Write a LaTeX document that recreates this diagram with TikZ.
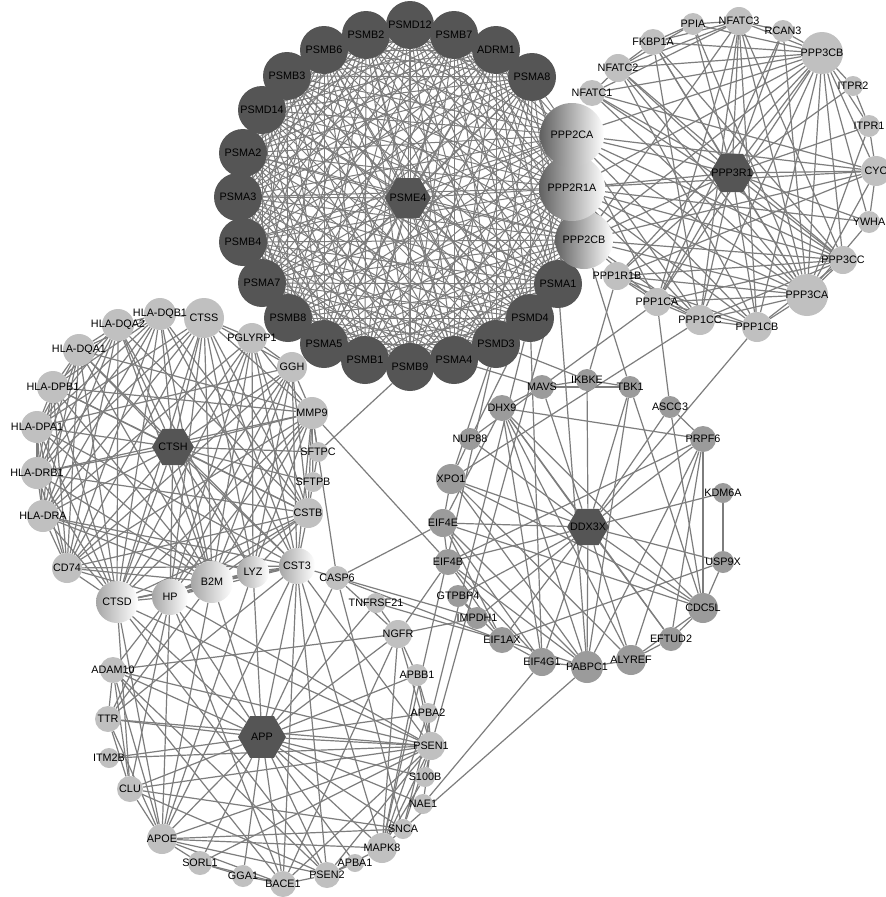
\documentclass[tikz,border=0pt]{standalone}
\usepackage{fontspec}
\setmainfont{Liberation Sans}
\usetikzlibrary{shapes.geometric,backgrounds}
\definecolor{dkc}{RGB}{85,85,85}
\definecolor{lgc}{RGB}{192,192,192}
\definecolor{mgc}{RGB}{155,155,155}
\definecolor{edc}{RGB}{125,125,125}
\newcommand{\lb}[1]{\makebox[0pt][c]{#1}}
\begin{document}
\begin{tikzpicture}[x=1pt,y=-1pt,
 nd/.style={circle,inner sep=0pt,font=\fontsize{10.8}{12}\selectfont,text=black},
 dk/.style={nd,fill=dkc,minimum size=48pt},
 lg/.style={nd,fill=lgc,minimum size=#1},
 mg/.style={nd,fill=mgc,minimum size=#1},
 gr/.style={nd,left color=black!62,right color=white,minimum size=#1},
 gl/.style={nd,left color=black!35,right color=white,minimum size=#1},
 hub/.style={regular polygon,regular polygon sides=6,inner sep=0pt,fill=dkc,minimum size=#1,font=\fontsize{10.8}{12}\selectfont,text=black},
 edge/.style={draw=edc,line width=1.2pt}]
\useasboundingbox (0,0) rectangle (886,897);
% ---------- proteasome cluster ----------
\node[hub=46pt] (pme4) at (408,198) {\lb{PSME4}};
\node[dk] (pd12) at (410,25) {\lb{PSMD12}};
\node[dk] (pb7) at (454,35) {\lb{PSMB7}};
\node[dk] (pb2) at (366,35) {\lb{PSMB2}};
\node[dk] (adrm) at (496,50) {\lb{ADRM1}};
\node[dk] (pb6) at (324,50) {\lb{PSMB6}};
\node[dk] (pa8) at (532,77) {\lb{PSMA8}};
\node[dk] (pb3) at (287,76) {\lb{PSMB3}};
\node[dk] (pd14) at (262,110) {\lb{PSMD14}};
\node[dk] (pa2) at (243,153) {\lb{PSMA2}};
\node[dk] (pa3) at (238,197) {\lb{PSMA3}};
\node[dk] (pb4) at (243,242) {\lb{PSMB4}};
\node[dk] (pa7) at (262,283) {\lb{PSMA7}};
\node[dk] (pb8) at (288,318) {\lb{PSMB8}};
\node[dk] (pa5) at (324,344) {\lb{PSMA5}};
\node[dk] (pb1) at (365,360) {\lb{PSMB1}};
\node[dk] (pb9) at (410,367) {\lb{PSMB9}};
\node[dk] (pa4) at (454,360) {\lb{PSMA4}};
\node[dk] (pd3) at (496,344) {\lb{PSMD3}};
\node[dk] (pd4) at (530,318) {\lb{PSMD4}};
\node[dk] (pa1) at (558,284) {\lb{PSMA1}};
\node[gr=58pt] (ppp2cb) at (584,240) {\lb{PPP2CB}};
\node[gr=66pt] (ppp2r1a) at (572,188) {\lb{PPP2R1A}};
\node[gr=64pt] (ppp2ca) at (572,135) {\lb{PPP2CA}};
% ---------- PPP3R1 cluster ----------
\node[hub=44pt] (ppp3r1) at (732,173) {\lb{PPP3R1}};
\node[lg=26pt] (nfatc1) at (592,93) {\lb{NFATC1}};
\node[lg=28pt] (nfatc2) at (618,68) {\lb{NFATC2}};
\node[lg=26pt] (fkbp) at (653,42) {\lb{FKBP1A}};
\node[lg=22pt] (ppia) at (693,24) {\lb{PPIA}};
\node[lg=28pt] (nfatc3) at (739,21) {\lb{NFATC3}};
\node[lg=22pt] (rcan3) at (783,31) {\lb{RCAN3}};
\node[lg=42pt] (ppp3cb) at (822,53) {\lb{PPP3CB}};
\node[lg=20pt] (itpr2) at (853,86) {\lb{ITPR2}};
\node[lg=22pt] (itpr1) at (869,126) {\lb{ITPR1}};
\node[lg=30pt] (cyc) at (876,171) {\lb{CYC}};
\node[lg=22pt] (ywha) at (869,222) {\lb{YWHA}};
\node[lg=28pt] (ppp3cc) at (843,260) {\lb{PPP3CC}};
\node[lg=42pt] (ppp3ca) at (807,295) {\lb{PPP3CA}};
\node[lg=30pt] (ppp1cb) at (757,327) {\lb{PPP1CB}};
\node[lg=30pt] (ppp1cc) at (700,320) {\lb{PPP1CC}};
\node[lg=28pt] (ppp1ca) at (657,302) {\lb{PPP1CA}};
\node[lg=28pt] (ppp1r1b) at (617,276) {\lb{PPP1R1B}};
% ---------- CTSH cluster ----------
\node[hub=42pt] (ctsh) at (173,447) {\lb{CTSH}};
\node[lg=40pt] (ctss) at (204,318) {\lb{CTSS}};
\node[lg=32pt] (hdqb1) at (160,314) {\lb{HLA-DQB1}};
\node[lg=32pt] (hdqa2) at (118,325) {\lb{HLA-DQA2}};
\node[lg=32pt] (hdqa1) at (79,350) {\lb{HLA-DQA1}};
\node[lg=32pt] (hdpb1) at (53,387) {\lb{HLA-DPB1}};
\node[lg=32pt] (hdpa1) at (37,427) {\lb{HLA-DPA1}};
\node[lg=32pt] (hdrb1) at (37,473) {\lb{HLA-DRB1}};
\node[lg=32pt] (hdra) at (43,516) {\lb{HLA-DRA}};
\node[lg=30pt] (cd74) at (67,568) {\lb{CD74}};
\node[gl=42pt] (ctsd) at (117,602) {\lb{CTSD}};
\node[gl=36pt] (hp) at (170,597) {\lb{HP}};
\node[gl=42pt] (b2m) at (212,582) {\lb{B2M}};
\node[gl=32pt] (lyz) at (253,572) {\lb{LYZ}};
\node[gl=36pt] (cst3) at (297,566) {\lb{CST3}};
\node[lg=30pt] (cstb) at (308,513) {\lb{CSTB}};
\node[lg=20pt] (sftpb) at (313,482) {\lb{SFTPB}};
\node[lg=20pt] (sftpc) at (318,452) {\lb{SFTPC}};
\node[lg=32pt] (mmp9) at (312,413) {\lb{MMP9}};
\node[lg=30pt] (ggh) at (292,367) {\lb{GGH}};
\node[lg=30pt] (pglyrp1) at (252,338) {\lb{PGLYRP1}};
% ---------- APP cluster ----------
\node[hub=48pt] (app) at (262,737) {\lb{APP}};
\node[lg=26pt] (adam10) at (113,670) {\lb{ADAM10}};
\node[lg=26pt] (ttr) at (108,719) {\lb{TTR}};
\node[lg=20pt] (itm2b) at (109,758) {\lb{ITM2B}};
\node[lg=26pt] (clu) at (130,789) {\lb{CLU}};
\node[lg=30pt] (apoe) at (162,839) {\lb{APOE}};
\node[lg=24pt] (sorl1) at (200,863) {\lb{SORL1}};
\node[lg=22pt] (gga1) at (243,876) {\lb{GGA1}};
\node[lg=26pt] (bace1) at (283,884) {\lb{BACE1}};
\node[lg=26pt] (psen2) at (327,875) {\lb{PSEN2}};
\node[lg=18pt] (apba1) at (355,863) {\lb{APBA1}};
\node[lg=30pt] (mapk8) at (382,848) {\lb{MAPK8}};
\node[lg=20pt] (snca) at (403,829) {\lb{SNCA}};
\node[lg=20pt] (nae1) at (423,804) {\lb{NAE1}};
\node[lg=20pt] (s100b) at (425,777) {\lb{S100B}};
\node[lg=28pt] (psen1) at (431,746) {\lb{PSEN1}};
\node[lg=20pt] (apba2) at (428,713) {\lb{APBA2}};
\node[lg=22pt] (apbb1) at (417,675) {\lb{APBB1}};
\node[lg=28pt] (ngfr) at (398,634) {\lb{NGFR}};
\node[lg=20pt] (tnfrsf21) at (376,603) {\lb{TNFRSF21}};
\node[lg=24pt] (casp6) at (337,578) {\lb{CASP6}};
% ---------- DDX3X cluster ----------
\node[hub=42pt] (ddx3x) at (588,527) {\lb{DDX3X}};
\node[mg=22pt] (ascc3) at (670,407) {\lb{ASCC3}};
\node[mg=26pt] (prpf6) at (703,439) {\lb{PRPF6}};
\node[mg=20pt] (kdm6a) at (723,493) {\lb{KDM6A}};
\node[mg=22pt] (usp9x) at (723,562) {\lb{USP9X}};
\node[mg=30pt] (cdc5l) at (703,608) {\lb{CDC5L}};
\node[mg=24pt] (eftud2) at (671,639) {\lb{EFTUD2}};
\node[mg=30pt] (alyref) at (631,660) {\lb{ALYREF}};
\node[mg=32pt] (pabpc1) at (587,667) {\lb{PABPC1}};
\node[mg=28pt] (eif4g1) at (542,662) {\lb{EIF4G1}};
\node[mg=26pt] (eif1ax) at (502,640) {\lb{EIF1AX}};
\node[mg=22pt] (impdh1) at (477,618) {\lb{IMPDH1}};
\node[mg=22pt] (gtpbp4) at (458,596) {\lb{GTPBP4}};
\node[mg=26pt] (eif4b) at (448,562) {\lb{EIF4B}};
\node[mg=28pt] (eif4e) at (443,523) {\lb{EIF4E}};
\node[mg=30pt] (xpo1) at (451,479) {\lb{XPO1}};
\node[mg=22pt] (nup88) at (470,439) {\lb{NUP88}};
\node[mg=26pt] (dhx9) at (502,408) {\lb{DHX9}};
\node[mg=24pt] (mavs) at (542,387) {\lb{MAVS}};
\node[mg=22pt] (ikbke) at (587,380) {\lb{IKBKE}};
\node[mg=22pt] (tbk1) at (630,387) {\lb{TBK1}};
% ---------- edges ----------
\begin{pgfonlayer}{background}
\fill[white] (0,0) rectangle (886,897);
\def\plist{pd12,pb7,adrm,pa8,ppp2ca,ppp2r1a,ppp2cb,pa1,pd4,pd3,pa4,pb9,pb1,pa5,pb8,pa7,pb4,pa3,pa2,pd14,pb3,pb6,pb2,pme4}
\foreach \a [count=\i] in \plist {
  \foreach \b [count=\j] in \plist {
    \ifnum\i<\j \draw[edge,line width=1pt] (\a) -- (\b); \fi
  }
}
% PPP3R1 cluster
\foreach \x in {nfatc1,nfatc2,fkbp,ppia,nfatc3,rcan3,ppp3cb,itpr2,itpr1,cyc,ywha,ppp3cc,ppp3ca,ppp1cb,ppp1cc,ppp1ca,ppp1r1b,ppp2cb,ppp2r1a,ppp2ca}
  \draw[edge] (ppp3r1) -- (\x);
\foreach \x in {nfatc1,nfatc2,nfatc3,fkbp,ppia,rcan3,itpr2,itpr1,cyc,ywha,ppp3cc,ppp3ca,ppp1cb,ppp1cc,ppp1ca,ppp1r1b,ppp2cb,ppp2r1a,ppp2ca}
  \draw[edge] (ppp3cb) -- (\x);
\foreach \x in {nfatc1,nfatc2,nfatc3,fkbp,ppia,rcan3,itpr1,cyc,ywha,ppp3cc,ppp1cb,ppp1cc,ppp1ca,ppp1r1b,ppp2ca,ppp2r1a,ppp2cb}
  \draw[edge] (ppp3ca) -- (\x);
\foreach \x in {nfatc1,nfatc2,nfatc3,fkbp,ppp1cb,ppp1cc,ppp1ca,ppp1r1b,ppp2ca,ppp2r1a,ppp2cb}
  \draw[edge] (ppp3cc) -- (\x);
\foreach \a/\b in {ppp1ca/ppp1cc,ppp1cc/ppp1cb,ppp1ca/ppp1cb,ppp1r1b/ppp1ca,ppp1r1b/ppp1cc,ppp1r1b/ppp1cb,
  ppp2ca/ppp1ca,ppp2ca/ppp1cc,ppp2ca/ppp1cb,ppp2ca/cyc,ppp2r1a/cyc,ppp2r1a/ywha,ppp2r1a/ppp1cc,ppp2r1a/ppp1cb,
  ppp2cb/ppp1cc,ppp2cb/ppp1ca,nfatc1/nfatc2,nfatc1/nfatc3,nfatc1/cyc,nfatc2/fkbp,nfatc2/ppia,nfatc2/nfatc3,
  fkbp/ppia,fkbp/nfatc3,fkbp/ppp1cc,ppia/nfatc3,nfatc3/rcan3,nfatc3/ppp1cb,nfatc3/ppp1cc,nfatc3/ppp1ca,nfatc3/ppp2cb,
  itpr1/itpr2,itpr1/cyc,cyc/ywha,cyc/ppp1r1b,cyc/ppp2cb,rcan3/ppp1ca,nfatc2/ppp1cb}
  \draw[edge] (\a) -- (\b);
% CTSH cluster
\foreach \x in {ctss,hdqb1,hdqa2,hdqa1,hdpb1,hdpa1,hdrb1,hdra,cd74,ctsd,hp,b2m,lyz,cst3,cstb,sftpb,sftpc,mmp9,ggh,pglyrp1}
  \draw[edge] (ctsh) -- (\x);
\def\hlist{hdqb1,hdqa2,hdqa1,hdpb1,hdpa1,hdrb1,hdra,cd74}
\foreach \a [count=\i] in \hlist {
  \foreach \b [count=\j] in \hlist {
    \ifnum\i<\j \draw[edge] (\a) -- (\b); \fi
  }
}
\foreach \x in {hdqb1,cd74,ctsd,hp,b2m,lyz,cst3,cstb,mmp9,ggh,pglyrp1,hdra,hdrb1,hdpa1}
  \draw[edge] (ctss) -- (\x);
\foreach \a/\b in {hdqb1/b2m,hdqb1/ctsd,hdqb1/cst3,hdqb1/cstb,hdqa2/b2m,hdqa2/ctsd,hdqa2/lyz,hdqa2/cstb,
  hdqa1/b2m,hdqa1/ctsd,hdqa1/cst3,hdqa1/mmp9,hdpb1/b2m,hdpb1/ctsd,hdpb1/cstb,hdpb1/mmp9,
  hdpa1/b2m,hdpa1/ctsd,hdpa1/cst3,hdpa1/ggh,hdrb1/b2m,hdrb1/ctsd,hdrb1/cstb,hdrb1/mmp9,
  hdra/b2m,hdra/ctsd,hdra/cst3,hdra/lyz,cd74/b2m,cd74/ctsd,cd74/hp,cd74/cst3,
  pglyrp1/ggh,pglyrp1/mmp9,pglyrp1/cstb,pglyrp1/cst3,pglyrp1/lyz,pglyrp1/b2m,pglyrp1/hp,pglyrp1/ctsd,pglyrp1/hdra,
  ggh/mmp9,ggh/cstb,ggh/cst3,ggh/lyz,ggh/b2m,ggh/hp,ggh/ctsd,ggh/cd74,
  mmp9/cstb,mmp9/cst3,mmp9/lyz,mmp9/b2m,mmp9/hp,mmp9/ctsd,mmp9/cd74,mmp9/sftpc,mmp9/sftpb,
  cstb/cst3,cstb/lyz,cstb/b2m,cstb/hp,cstb/ctsd,cstb/cd74,cstb/sftpb,sftpc/sftpb,
  cst3/lyz,cst3/b2m,cst3/hp,cst3/ctsd,lyz/b2m,lyz/hp,lyz/ctsd,b2m/hp,b2m/ctsd,hp/ctsd}
  \draw[edge] (\a) -- (\b);
% APP cluster
\foreach \x in {adam10,ttr,itm2b,clu,apoe,sorl1,gga1,bace1,psen2,apba1,mapk8,snca,nae1,s100b,psen1,apba2,apbb1,ngfr,tnfrsf21,casp6,hp,ctsd,b2m,lyz,cst3}
  \draw[edge] (app) -- (\x);
\foreach \a/\b in {adam10/ttr,adam10/clu,adam10/apoe,adam10/bace1,adam10/psen1,adam10/psen2,adam10/ngfr,
  ttr/clu,ttr/apoe,ttr/psen1,clu/apoe,clu/psen1,clu/psen2,clu/snca,itm2b/psen1,
  apoe/sorl1,apoe/bace1,apoe/psen1,apoe/psen2,apoe/mapk8,apoe/snca,
  sorl1/gga1,sorl1/bace1,sorl1/psen1,gga1/bace1,bace1/psen1,bace1/psen2,bace1/ngfr,
  psen2/psen1,psen2/apba1,psen2/mapk8,mapk8/ngfr,mapk8/apbb1,mapk8/psen1,mapk8/apba2,mapk8/s100b,mapk8/snca,
  psen1/ngfr,psen1/apba2,psen1/apbb1,psen1/s100b,psen1/nae1,psen1/snca,
  ngfr/apbb1,ngfr/casp6,ngfr/tnfrsf21,apbb1/apba2,
  hp/adam10,hp/ttr,hp/clu,hp/apoe,hp/psen1,hp/bace1,
  ctsd/apoe,ctsd/clu,ctsd/psen1,ctsd/psen2,
  cst3/apoe,cst3/psen1,cst3/bace1,cst3/psen2,cst3/ttr,cst3/mapk8,
  b2m/apoe,b2m/ttr,lyz/apoe,casp6/snca}
  \draw[edge] (\a) -- (\b);
% DDX3X cluster
\foreach \x in {ascc3,prpf6,kdm6a,usp9x,cdc5l,eftud2,alyref,pabpc1,eif4g1,eif1ax,impdh1,gtpbp4,eif4b,eif4e,xpo1,nup88,dhx9,mavs,ikbke,tbk1}
  \draw[edge] (ddx3x) -- (\x);
\foreach \a/\b in {eif4e/eif4b,eif4e/eif4g1,eif4e/pabpc1,eif4e/eif1ax,eif4e/dhx9,eif4e/xpo1,
  eif4b/eif4g1,eif4b/pabpc1,eif4b/eif1ax,eif4g1/pabpc1,eif4g1/eif1ax,eif4g1/dhx9,
  pabpc1/dhx9,pabpc1/eif1ax,pabpc1/alyref,pabpc1/xpo1,pabpc1/prpf6,
  xpo1/nup88,xpo1/alyref,xpo1/cdc5l,dhx9/alyref,dhx9/cdc5l,dhx9/prpf6,dhx9/eftud2,
  cdc5l/prpf6,cdc5l/eftud2,cdc5l/alyref,cdc5l/ascc3,cdc5l/usp9x,cdc5l/eif4e,
  kdm6a/usp9x,mavs/ikbke,mavs/tbk1,mavs/dhx9,ikbke/tbk1,tbk1/pabpc1,tbk1/cdc5l,
  gtpbp4/impdh1,gtpbp4/eif1ax,prpf6/eftud2,prpf6/alyref,prpf6/eif4b,usp9x/eif1ax,ascc3/prpf6,eftud2/alyref}
  \draw[edge] (\a) -- (\b);
% between clusters
\foreach \a/\b in {pb9/sftpc,mmp9/eif4b,casp6/eif4e,casp6/mmp9,casp6/eif1ax,cst3/impdh1,tnfrsf21/eif1ax,
  ngfr/eif4b,ngfr/impdh1,snca/pabpc1,nae1/eif4g1,pd3/mapk8,pd4/snca,pa1/psen1,pa4/mavs,pd3/ikbke,
  ppp1r1b/ikbke,ppp2cb/tbk1,ppp1cc/xpo1,ppp1ca/nup88,ppp1ca/ascc3,ppp1cb/ddx3x,pa1/pabpc1,pd4/eif4g1,
  pd3/xpo1,pd4/nup88}
  \draw[edge] (\a) -- (\b);
\end{pgfonlayer}
\end{tikzpicture}
\end{document}
